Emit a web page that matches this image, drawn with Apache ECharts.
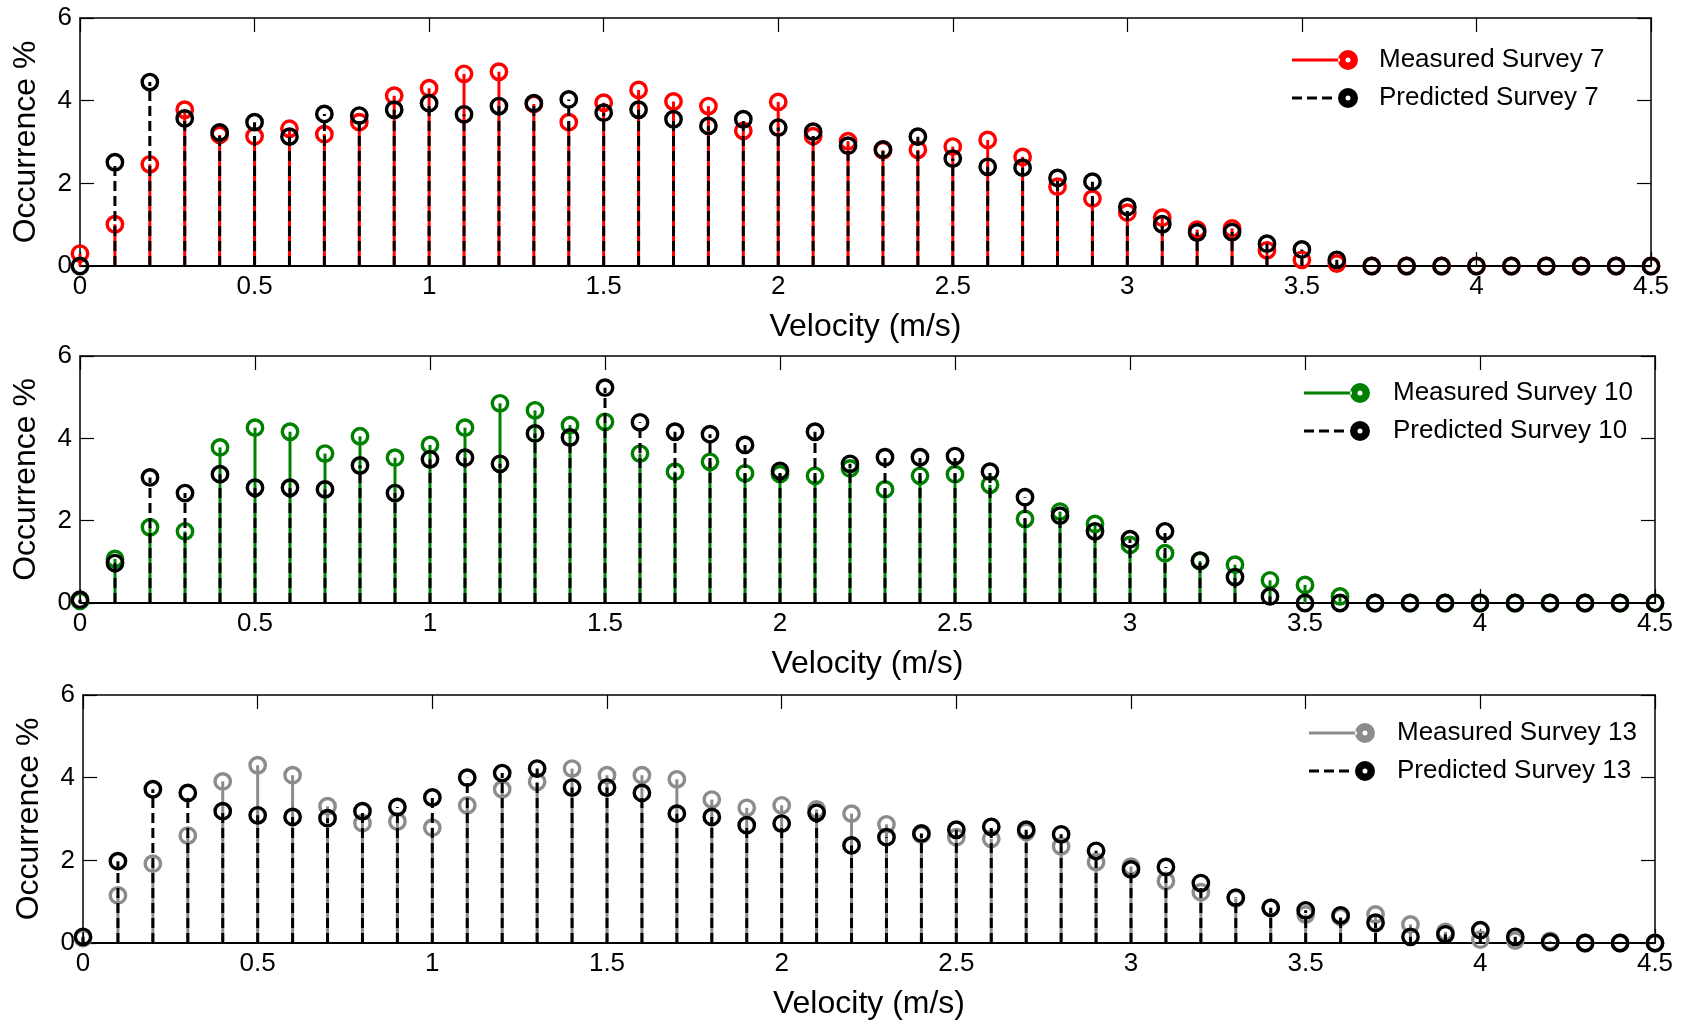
<!DOCTYPE html>
<html>
<head>
<meta charset="utf-8">
<title>Velocity occurrence – measured vs predicted</title>
<script src="https://cdn.jsdelivr.net/npm/echarts@6/dist/echarts.min.js"></script>
<style>
  html, body { margin: 0; padding: 0; background: #ffffff; }
  #chart { width: 1686px; height: 1024px; }
</style>
</head>
<body>
<div id="chart"></div>
<script>
// Velocity bins (m/s)
const velocity = [0, 0.1, 0.2, 0.3, 0.4, 0.5, 0.6, 0.7, 0.8, 0.9,
  1.0, 1.1, 1.2, 1.3, 1.4, 1.5, 1.6, 1.7, 1.8, 1.9,
  2.0, 2.1, 2.2, 2.3, 2.4, 2.5, 2.6, 2.7, 2.8, 2.9,
  3.0, 3.1, 3.2, 3.3, 3.4, 3.5, 3.6, 3.7, 3.8, 3.9,
  4.0, 4.1, 4.2, 4.3, 4.4, 4.5];

// Occurrence (%) per bin
const measured7 = [0.30, 1.01, 2.46, 3.78, 3.17, 3.14, 3.32, 3.19, 3.48, 4.12,
  4.30, 4.65, 4.70, 3.92, 3.48, 3.95, 4.26, 3.98, 3.87, 3.27,
  3.97, 3.14, 3.02, 2.80, 2.81, 2.89, 3.05, 2.64, 1.92, 1.63,
  1.29, 1.17, 0.88, 0.91, 0.38, 0.15, 0.06, 0, 0, 0,
  0, 0, 0, 0, 0, 0];
const predicted7 = [0, 2.51, 4.45, 3.57, 3.23, 3.48, 3.13, 3.68, 3.64, 3.78,
  3.94, 3.67, 3.87, 3.94, 4.03, 3.71, 3.78, 3.55, 3.39, 3.55,
  3.35, 3.25, 2.91, 2.82, 3.13, 2.60, 2.40, 2.38, 2.13, 2.04,
  1.43, 1.01, 0.81, 0.82, 0.54, 0.40, 0.15, 0, 0, 0,
  0, 0, 0, 0, 0, 0];

const measured10 = [0.05, 1.07, 1.84, 1.74, 3.78, 4.26, 4.16, 3.63, 4.05, 3.53,
  3.84, 4.26, 4.85, 4.68, 4.32, 4.40, 3.63, 3.19, 3.43, 3.15,
  3.13, 3.09, 3.27, 2.76, 3.09, 3.13, 2.87, 2.04, 2.22, 1.92,
  1.41, 1.21, 1.02, 0.93, 0.55, 0.44, 0.16, 0, 0, 0,
  0, 0, 0, 0, 0, 0];
const predicted10 = [0.08, 0.97, 3.05, 2.67, 3.13, 2.80, 2.80, 2.76, 3.34, 2.67,
  3.49, 3.53, 3.38, 4.12, 4.02, 5.23, 4.39, 4.16, 4.10, 3.84,
  3.21, 4.16, 3.38, 3.54, 3.54, 3.57, 3.19, 2.57, 2.12, 1.74,
  1.55, 1.74, 1.03, 0.63, 0.16, 0, 0, 0, 0, 0,
  0, 0, 0, 0, 0, 0];

const measured13 = [0.12, 1.15, 1.92, 2.60, 3.91, 4.30, 4.06, 3.31, 2.90, 2.94,
  2.79, 3.33, 3.72, 3.90, 4.22, 4.06, 4.06, 3.96, 3.47, 3.27,
  3.33, 3.23, 3.13, 2.87, 2.62, 2.56, 2.52, 2.69, 2.34, 1.96,
  1.85, 1.50, 1.23, 1.08, 0.85, 0.69, 0.63, 0.69, 0.45, 0.27,
  0.08, 0.06, 0.05, 0, 0, 0];
const predicted13 = [0.15, 1.98, 3.72, 3.63, 3.19, 3.09, 3.05, 3.02, 3.19, 3.29,
  3.52, 4.00, 4.11, 4.22, 3.76, 3.76, 3.63, 3.13, 3.05, 2.85,
  2.89, 3.15, 2.36, 2.56, 2.65, 2.74, 2.81, 2.74, 2.63, 2.23,
  1.78, 1.84, 1.45, 1.10, 0.85, 0.79, 0.67, 0.49, 0.15, 0.21,
  0.31, 0.15, 0.02, 0, 0, 0];

const surveys = ['7', '10', '13'];
const measuredColors = ['#ff0000', '#008000', '#8c8c8c'];
const yTicks = [0, 2, 4, 6];
const xTicks = [0, 0.5, 1, 1.5, 2, 2.5, 3, 3.5, 4, 4.5];

const measuredSets = [measured7, measured10, measured13];
const predictedSets = [predicted7, predicted10, predicted13];

const FONT = '"Liberation Sans", Arial, Helvetica, sans-serif';

// Panel placement (pixels)
const grids = [
  { left: 80, top: 18, width: 1571, height: 248 },
  { left: 80, top: 356, width: 1575, height: 247 },
  { left: 83, top: 695, width: 1572, height: 248 }
];
const legendPos = [
  { left: 1292, top: 47, pad: 16 },
  { left: 1304, top: 380, pad: 18 },
  { left: 1309, top: 720, pad: 17 }
];

// Legend glyphs: stem line + ring marker (66 x 22 box)
const ringPath = 'M46,11 A10,10 0 1,0 66,11 A10,10 0 1,0 46,11 Z ' +
                 'M53.5,11 A2.5,2.5 0 1,1 58.5,11 A2.5,2.5 0 1,1 53.5,11 Z';
const solidIcon = 'path://M0,9.6 L48,9.6 L48,12.4 L0,12.4 Z ' + ringPath;
const dashIcon = 'path://M0,9.4 L10,9.4 L10,12.6 L0,12.6 Z ' +
                 'M15,9.4 L25,9.4 L25,12.6 L15,12.6 Z ' +
                 'M30,9.4 L40,9.4 L40,12.6 L30,12.6 Z ' + ringPath;

function stemRenderer(color, dashed) {
  return function (params, api) {
    const x = api.value(0);
    const y = api.value(1);
    const base = api.coord([x, 0]);
    const tip = api.coord([x, y]);
    return {
      type: 'group',
      children: [
        {
          type: 'line',
          shape: { x1: base[0], y1: base[1], x2: tip[0], y2: tip[1] },
          style: { stroke: color, lineWidth: 3, lineDash: dashed ? [10, 5] : null }
        },
        {
          type: 'circle',
          shape: { cx: tip[0], cy: tip[1], r: 7.7 },
          style: { fill: 'none', stroke: color, lineWidth: 3.4 }
        }
      ]
    };
  };
}

const axisLineStyle = { color: '#000', width: 1.5 };
const tickStyle = { show: true, inside: true, length: 14, lineStyle: { color: '#000', width: 1.2 } };
const gridOpts = [], xAxes = [], yAxes = [], series = [], legends = [];

surveys.forEach(function (s, i) {
  gridOpts.push(Object.assign({ containLabel: false }, grids[i]));

  // bottom axis with labels
  xAxes.push({
    gridIndex: i, type: 'value', min: 0, max: 4.5, interval: 0.5,
    position: 'bottom',
    name: 'Velocity (m/s)', nameLocation: 'middle', nameGap: 45,
    nameTextStyle: { fontFamily: FONT, fontSize: 32, color: '#000' },
    axisLine: { show: true, onZero: false, lineStyle: { color: '#000', width: 2 } },
    axisTick: tickStyle,
    axisLabel: {
      fontFamily: FONT, fontSize: 26, color: '#000', margin: 8,
      formatter: function (v) { return xTicks.indexOf(v) >= 0 ? String(v) : ''; }
    },
    splitLine: { show: false }
  });
  // top frame edge with ticks
  xAxes.push({
    gridIndex: i, type: 'value', min: 0, max: 4.5, interval: 0.5,
    position: 'top',
    axisLine: { show: true, onZero: false, lineStyle: axisLineStyle },
    axisTick: tickStyle,
    axisLabel: { show: false },
    splitLine: { show: false }
  });
  // left axis with labels
  yAxes.push({
    gridIndex: i, type: 'value', min: 0, max: 6, interval: 2,
    position: 'left',
    name: 'Occurrence %', nameLocation: 'middle', nameGap: 38, nameRotate: 90,
    nameTextStyle: { fontFamily: FONT, fontSize: 32, color: '#000' },
    axisLine: { show: true, onZero: false, lineStyle: axisLineStyle },
    axisTick: tickStyle,
    axisLabel: {
      fontFamily: FONT, fontSize: 26, color: '#000', margin: 8,
      formatter: function (v) { return yTicks.indexOf(v) >= 0 ? String(v) : ''; }
    },
    splitLine: { show: false }
  });
  // right frame edge with ticks
  yAxes.push({
    gridIndex: i, type: 'value', min: 0, max: 6, interval: 2,
    position: 'right',
    axisLine: { show: true, onZero: false, lineStyle: axisLineStyle },
    axisTick: tickStyle,
    axisLabel: { show: false },
    splitLine: { show: false }
  });

  const mName = 'Measured Survey ' + s;
  const pName = 'Predicted Survey ' + s;
  const mData = velocity.map(function (v, k) { return [v, measuredSets[i][k]]; });
  const pData = velocity.map(function (v, k) { return [v, predictedSets[i][k]]; });

  series.push({
    name: mName, type: 'custom',
    xAxisIndex: i * 2, yAxisIndex: i * 2,
    itemStyle: { color: measuredColors[i] },
    renderItem: stemRenderer(measuredColors[i], false),
    data: mData, z: 3
  });
  series.push({
    name: pName, type: 'custom',
    xAxisIndex: i * 2, yAxisIndex: i * 2,
    itemStyle: { color: '#000' },
    renderItem: stemRenderer('#000', true),
    data: pData, z: 4
  });

  legends.push({
    left: legendPos[i].left, top: legendPos[i].top,
    orient: 'vertical', padding: 0, itemGap: 12,
    itemWidth: 66, itemHeight: 22, selectedMode: false,
    textStyle: {
      fontFamily: FONT, fontSize: 26, color: '#000', lineHeight: 22,
      padding: [0, 0, 0, legendPos[i].pad]
    },
    data: [
      { name: mName, icon: solidIcon },
      { name: pName, icon: dashIcon }
    ]
  });
});

const chart = echarts.init(document.getElementById('chart'), null, { renderer: 'canvas' });
chart.setOption({
  backgroundColor: '#ffffff',
  animation: false,
  grid: gridOpts,
  xAxis: xAxes,
  yAxis: yAxes,
  legend: legends,
  series: series
});
</script>
</body>
</html>
